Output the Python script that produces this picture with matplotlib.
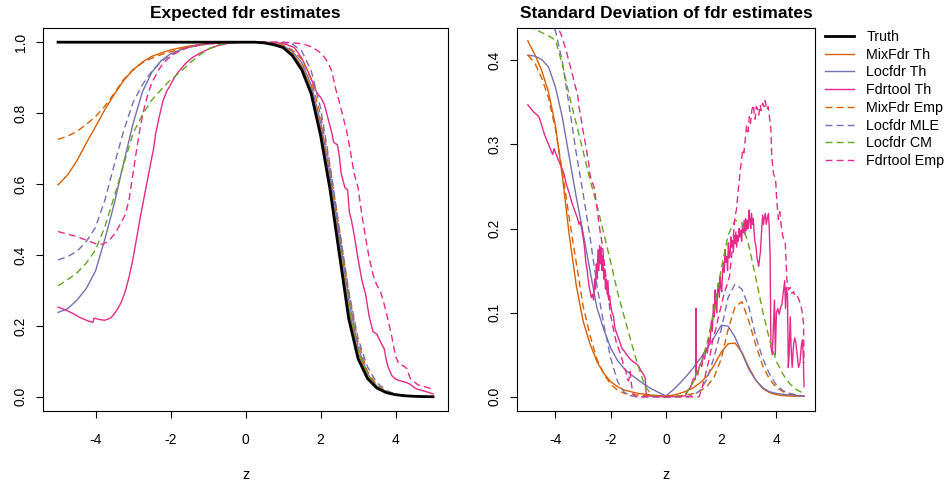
import matplotlib
matplotlib.use('Agg')
import matplotlib.pyplot as plt

plt.rcParams['font.family'] = ['Liberation Sans', 'DejaVu Sans']
plt.rcParams['axes.unicode_minus'] = False

# common z grid for the smooth curves
z_grid = [-5, -4.75, -4.5, -4.25, -4, -3.75, -3.5, -3.25, -3, -2.75,
          -2.5, -2.25, -2, -1.75, -1.5, -1.25, -1, -0.75, -0.5, -0.25,
          0, 0.25, 0.5, 0.75, 1, 1.25, 1.5, 1.75, 2, 2.25,
          2.5, 2.75, 3, 3.25, 3.5, 3.75, 4, 4.25, 4.5, 4.75, 5]

# ---- expected fdr estimates (left panel) ----
truth_mean = [1, 1, 1, 1, 1, 1, 1, 1, 1, 1, 1, 1, 1, 1, 1, 1, 1, 1, 1, 1, 1,
              1.0, 0.998, 0.993, 0.985, 0.962, 0.922, 0.855, 0.738, 0.587, 0.404,
              0.222, 0.108, 0.052, 0.025, 0.012, 0.006, 0.003, 0.0015, 0.0007, 0.0003]
mixfdr_th_mean = [0.598, 0.625, 0.665, 0.715, 0.762, 0.81, 0.853, 0.892, 0.922, 0.944,
                  0.96, 0.97, 0.978, 0.984, 0.989, 0.993, 0.996, 0.998, 0.999, 1.0, 1.0,
                  1.0, 0.999, 0.996, 0.988, 0.968, 0.932, 0.868, 0.758, 0.61, 0.43,
                  0.25, 0.125, 0.058, 0.027, 0.013, 0.006, 0.003, 0.0015, 0.0007, 0.0003]
locfdr_th_mean = [0.238, 0.248, 0.272, 0.305, 0.355, 0.445, 0.545, 0.66, 0.77, 0.86,
                  0.915, 0.948, 0.967, 0.978, 0.986, 0.991, 0.995, 0.997, 0.999, 1.0, 1.0,
                  1.0, 0.999, 0.997, 0.99, 0.974, 0.942, 0.88, 0.775, 0.63, 0.455,
                  0.275, 0.14, 0.065, 0.03, 0.014, 0.007, 0.003, 0.0015, 0.0007, 0.0003]
mixfdr_emp_mean = [0.726, 0.735, 0.748, 0.768, 0.79, 0.82, 0.856, 0.895, 0.922, 0.942,
                   0.955, 0.965, 0.973, 0.98, 0.986, 0.991, 0.995, 0.997, 0.999, 1.0, 1.0,
                   1.0, 0.999, 0.998, 0.992, 0.978, 0.952, 0.895, 0.795, 0.65, 0.475,
                   0.295, 0.155, 0.072, 0.033, 0.015, 0.007, 0.003, 0.0015, 0.0007, 0.0003]
locfdr_mle_mean = [0.386, 0.395, 0.41, 0.437, 0.478, 0.555, 0.655, 0.75, 0.83, 0.88,
                   0.918, 0.945, 0.964, 0.977, 0.986, 0.992, 0.996, 0.998, 0.999, 1.0, 1.0,
                   1.0, 1.0, 1.0, 0.999, 0.995, 0.975, 0.92, 0.815, 0.655, 0.475,
                   0.3, 0.165, 0.085, 0.04, 0.018, 0.008, 0.004, 0.002, 0.001, 0.0005]
locfdr_cm_mean = [0.313, 0.33, 0.349, 0.377, 0.414, 0.48, 0.565, 0.655, 0.743, 0.795,
                  0.837, 0.866, 0.894, 0.915, 0.94, 0.962, 0.98, 0.992, 0.997, 0.999, 1.0,
                  1.0, 0.999, 0.995, 0.986, 0.965, 0.926, 0.86, 0.745, 0.6, 0.425,
                  0.25, 0.128, 0.062, 0.03, 0.015, 0.007, 0.003, 0.0015, 0.0007, 0.0003]

fdrtool_th_mean_z = [-5.0, -4.8, -4.6, -4.4, -4.2, -4.07, -4.04, -3.9, -3.75, -3.6,
                     -3.5, -3.4, -3.3, -3.2, -3.1, -3.0, -2.9, -2.8, -2.7, -2.6,
                     -2.5, -2.45, -2.4, -2.3, -2.2, -2.1, -2.0, -1.9, -1.8, -1.6,
                     -1.4, -1.2, -1.0, -0.75, -0.5, -0.25, 0.0, 0.5, 1.0, 1.3,
                     1.5, 1.7, 1.9, 2.0, 2.1, 2.2, 2.3, 2.35, 2.4, 2.45,
                     2.5, 2.55, 2.6, 2.65, 2.72, 2.77, 2.82, 2.9, 3.0, 3.1,
                     3.2, 3.3, 3.4, 3.5, 3.6, 3.7, 3.75, 3.8, 3.9, 4.0,
                     4.1, 4.2, 4.3, 4.4, 4.5, 4.6, 4.7, 4.8, 4.9, 5.0]
fdrtool_th_mean = [0.253, 0.245, 0.235, 0.223, 0.214, 0.21, 0.222, 0.218, 0.216, 0.222,
                   0.234, 0.25, 0.27, 0.3, 0.34, 0.39, 0.45, 0.51, 0.565, 0.62,
                   0.675, 0.70, 0.74, 0.79, 0.835, 0.862, 0.88, 0.9, 0.915, 0.94,
                   0.958, 0.97, 0.98, 0.99, 0.996, 0.999, 1.0, 1.0, 0.997, 0.985,
                   0.955, 0.91, 0.858, 0.845, 0.825, 0.785, 0.745, 0.718, 0.714, 0.711,
                   0.68, 0.63, 0.61, 0.59, 0.584, 0.52, 0.5, 0.455, 0.39, 0.33,
                   0.29, 0.225, 0.184, 0.177, 0.155, 0.135, 0.105, 0.085, 0.06, 0.05,
                   0.046, 0.043, 0.04, 0.035, 0.026, 0.021, 0.018, 0.015, 0.012, 0.008]

fdrtool_emp_mean_z = [-5.0, -4.5, -4.2, -4.0, -3.8, -3.65, -3.5, -3.35, -3.2, -3.1,
                      -3.0, -2.9, -2.8, -2.7, -2.6, -2.5, -2.4, -2.3, -2.2, -2.0,
                      -1.75, -1.5, -1.0, -0.5, 0.0, 0.5, 1.0, 1.4, 1.6, 1.8,
                      2.0, 2.1, 2.2, 2.3, 2.4, 2.5, 2.6, 2.7, 2.8, 2.9,
                      3.0, 3.1, 3.2, 3.3, 3.4, 3.5, 3.6, 3.7, 3.8, 3.9,
                      4.0, 4.1, 4.2, 4.3, 4.4, 4.5, 4.6, 4.7, 4.8, 4.9,
                      5.0]
fdrtool_emp_mean = [0.466, 0.452, 0.44, 0.432, 0.43, 0.44, 0.458, 0.485, 0.515, 0.56,
                    0.63, 0.7, 0.765, 0.815, 0.855, 0.885, 0.905, 0.925, 0.94, 0.96,
                    0.976, 0.987, 0.996, 0.999, 1.0, 1.0, 1.0, 0.997, 0.993, 0.985,
                    0.97, 0.958, 0.943, 0.918, 0.87, 0.832, 0.79, 0.748, 0.69, 0.628,
                    0.59, 0.515, 0.45, 0.39, 0.345, 0.315, 0.297, 0.26, 0.217, 0.17,
                    0.115, 0.09, 0.088, 0.08, 0.05, 0.042, 0.034, 0.03, 0.028, 0.025,
                    0.02]

# ---- standard deviation of fdr estimates (right panel) ----
mixfdr_th_sd = [0.423, 0.407, 0.388, 0.362, 0.322, 0.262, 0.192, 0.133, 0.09, 0.063,
                0.042, 0.028, 0.018, 0.012, 0.008, 0.006, 0.004, 0.003, 0.002, 0.0015, 0.001,
                0.002, 0.004, 0.007, 0.011, 0.017, 0.025, 0.038, 0.053, 0.063, 0.064,
                0.053, 0.035, 0.02, 0.01, 0.005, 0.0025, 0.0015, 0.001, 0.0007, 0.0005]
locfdr_th_sd = [0.406, 0.405, 0.401, 0.392, 0.368, 0.332, 0.285, 0.238, 0.195, 0.15,
                0.106, 0.08, 0.058, 0.043, 0.033, 0.026, 0.02, 0.014, 0.009, 0.005, 0.001,
                0.008, 0.016, 0.025, 0.035, 0.046, 0.058, 0.071, 0.085, 0.084, 0.071,
                0.052, 0.033, 0.02, 0.011, 0.006, 0.004, 0.003, 0.002, 0.0015, 0.001]
mixfdr_emp_sd = [0.406, 0.397, 0.379, 0.355, 0.318, 0.268, 0.212, 0.16, 0.108, 0.073,
                 0.045, 0.027, 0.015, 0.008, 0.004, 0.003, 0.002, 0.0015, 0.001, 0.001, 0.001,
                 0.001, 0.001, 0.002, 0.004, 0.007, 0.013, 0.024, 0.045, 0.08, 0.107,
                 0.113, 0.09, 0.062, 0.037, 0.021, 0.011, 0.006, 0.003, 0.002, 0.001]
locfdr_mle_sd = [0.5, 0.485, 0.468, 0.452, 0.435, 0.398, 0.345, 0.29, 0.242, 0.19,
                 0.133, 0.086, 0.046, 0.018, 0.005, 0.001, 0.0005, 0, 0, 0, 0,
                 0, 0, 0, 0.002, 0.008, 0.022, 0.048, 0.08, 0.118, 0.134,
                 0.128, 0.107, 0.072, 0.046, 0.027, 0.014, 0.007, 0.004, 0.002, 0.001]
locfdr_cm_sd = [0.44, 0.437, 0.433, 0.429, 0.424, 0.395, 0.358, 0.325, 0.292, 0.258,
                0.228, 0.194, 0.16, 0.124, 0.094, 0.064, 0.036, 0.012, 0.002, 0, 0,
                0, 0.001, 0.005, 0.018, 0.038, 0.065, 0.105, 0.152, 0.192, 0.21,
                0.207, 0.18, 0.142, 0.102, 0.068, 0.042, 0.026, 0.015, 0.008, 0.004]

fdrtool_th_sd_z = [-5.0, -4.9, -4.8, -4.7, -4.6, -4.5, -4.4, -4.3, -4.2, -4.1,
                   -4.05, -4.0, -3.9, -3.8, -3.7, -3.6, -3.5, -3.4, -3.3, -3.2,
                   -3.15, -3.1, -3.0, -2.95, -2.9, -2.85, -2.8, -2.75, -2.7, -2.66,
                   -2.62, -2.58, -2.55, -2.52, -2.49, -2.46, -2.43, -2.4, -2.37, -2.34,
                   -2.31, -2.28, -2.25, -2.22, -2.19, -2.16, -2.13, -2.1, -2.07, -2.04,
                   -2.0, -1.95, -1.9, -1.85, -1.8, -1.7, -1.6, -1.5, -1.4, -1.3,
                   -1.2, -1.1, -1.0, -0.9, -0.8, -0.75, -0.72, -0.6, 0.0, 0.7,
                   0.8, 0.9, 0.95, 1.0, 1.05, 1.08, 1.09, 1.1, 1.15, 1.2,
                   1.25, 1.3, 1.35, 1.4, 1.45, 1.5, 1.55, 1.6, 1.64, 1.68,
                   1.72, 1.75, 1.78, 1.81, 1.84, 1.87, 1.9, 1.93, 1.96, 1.99,
                   2.02, 2.05, 2.08, 2.11, 2.14, 2.17, 2.2, 2.23, 2.26, 2.29,
                   2.32, 2.35, 2.38, 2.41, 2.44, 2.47, 2.5, 2.53, 2.56, 2.59,
                   2.62, 2.65, 2.68, 2.71, 2.74, 2.77, 2.8, 2.83, 2.86, 2.89,
                   2.92, 2.95, 2.98, 3.01, 3.04, 3.07, 3.1, 3.13, 3.16, 3.19,
                   3.22, 3.26, 3.3, 3.33, 3.36, 3.39, 3.42, 3.45, 3.48, 3.5,
                   3.53, 3.56, 3.6, 3.63, 3.67, 3.71, 3.74, 3.77, 3.8, 3.85,
                   3.9, 3.93, 3.96, 4.0, 4.05, 4.1, 4.15, 4.2, 4.25, 4.3,
                   4.33, 4.36, 4.4, 4.43, 4.46, 4.5, 4.53, 4.57, 4.62, 4.66,
                   4.7, 4.75, 4.8, 4.85, 4.9, 4.94, 4.97, 5.0]
fdrtool_th_sd = [0.347, 0.343, 0.339, 0.336, 0.333, 0.323, 0.312, 0.304, 0.296, 0.288,
                 0.295, 0.29, 0.282, 0.274, 0.266, 0.252, 0.242, 0.23, 0.221, 0.212,
                 0.205, 0.208, 0.19, 0.178, 0.16, 0.15, 0.135, 0.126, 0.118, 0.122,
                 0.115, 0.14, 0.128, 0.158, 0.14, 0.175, 0.15, 0.18, 0.158, 0.178,
                 0.15, 0.168, 0.14, 0.152, 0.128, 0.14, 0.122, 0.138, 0.115, 0.12,
                 0.108, 0.1, 0.096, 0.082, 0.077, 0.068, 0.058, 0.054, 0.049, 0.045,
                 0.042, 0.04, 0.037, 0.031, 0.026, 0.022, 0.004, 0.001, 0.0, 0.001,
                 0.008, 0.012, 0.018, 0.022, 0.02, 0.026, 0.105, 0.03, 0.026, 0.035,
                 0.04, 0.036, 0.05, 0.045, 0.058, 0.052, 0.07, 0.064, 0.09, 0.078,
                 0.11, 0.095, 0.127, 0.108, 0.1, 0.128, 0.135, 0.118, 0.143, 0.13,
                 0.125, 0.15, 0.159, 0.148, 0.175, 0.16, 0.167, 0.15, 0.183, 0.165,
                 0.167, 0.19, 0.178, 0.186, 0.172, 0.192, 0.182, 0.196, 0.178, 0.192,
                 0.185, 0.2, 0.19, 0.198, 0.185, 0.205, 0.195, 0.21, 0.193, 0.212,
                 0.198, 0.21, 0.2, 0.222, 0.21, 0.2, 0.218, 0.205, 0.212, 0.196,
                 0.185, 0.179, 0.165, 0.16, 0.155, 0.165, 0.172, 0.19, 0.205, 0.216,
                 0.205, 0.213, 0.218, 0.205, 0.212, 0.218, 0.2, 0.17, 0.06, 0.05,
                 0.09, 0.115, 0.05, 0.1, 0.105, 0.098, 0.106, 0.11, 0.125, 0.138,
                 0.105, 0.13, 0.12, 0.035, 0.05, 0.095, 0.06, 0.035, 0.062, 0.07,
                 0.065, 0.05, 0.035, 0.04, 0.06, 0.068, 0.05, 0.012]

fdrtool_emp_sd_z = [-5.0, -4.5, -4.0, -3.9, -3.8, -3.7, -3.6, -3.5, -3.4, -3.3,
                    -3.2, -3.15, -3.1, -3.0, -2.9, -2.8, -2.75, -2.7, -2.6, -2.5,
                    -2.4, -2.3, -2.2, -2.1, -2.0, -1.9, -1.8, -1.7, -1.6, -1.5,
                    -1.45, -1.4, -1.35, -1.3, -1.25, -1.2, -1.1, 1.2, 1.3, 1.4,
                    1.5, 1.6, 1.7, 1.8, 1.9, 2.0, 2.1, 2.2, 2.3, 2.4,
                    2.5, 2.55, 2.62, 2.68, 2.73, 2.78, 2.82, 2.86, 2.92, 2.97,
                    3.02, 3.06, 3.11, 3.17, 3.2, 3.23, 3.27, 3.31, 3.36, 3.41,
                    3.45, 3.5, 3.55, 3.59, 3.65, 3.7, 3.74, 3.8, 3.83, 3.89,
                    3.97, 4.01, 4.07, 4.12, 4.16, 4.23, 4.32, 4.38, 4.44, 4.5,
                    4.56, 4.62, 4.68, 4.74, 4.8, 4.86, 4.92, 4.98, 5.0]
fdrtool_emp_sd = [0.53, 0.5, 0.45, 0.438, 0.431, 0.421, 0.41, 0.397, 0.385, 0.371,
                  0.36, 0.345, 0.336, 0.316, 0.298, 0.278, 0.264, 0.258, 0.249, 0.225,
                  0.2, 0.18, 0.15, 0.122, 0.097, 0.08, 0.065, 0.056, 0.046, 0.034,
                  0.03, 0.021, 0.019, 0.03, 0.015, 0.005, 0.0, 0.0, 0.01, 0.022,
                  0.036, 0.05, 0.068, 0.08, 0.095, 0.108, 0.122, 0.132, 0.143, 0.175,
                  0.215, 0.222, 0.246, 0.266, 0.28, 0.294, 0.29, 0.302, 0.322, 0.315,
                  0.333, 0.325, 0.341, 0.347, 0.335, 0.33, 0.345, 0.343, 0.335, 0.347,
                  0.34, 0.349, 0.345, 0.352, 0.341, 0.345, 0.335, 0.318, 0.286, 0.266,
                  0.258, 0.234, 0.211, 0.22, 0.207, 0.191, 0.183, 0.139, 0.127, 0.13,
                  0.123, 0.125, 0.119, 0.12, 0.117, 0.111, 0.103, 0.088, 0.04]

orange = '#D95F02'
purple = '#7570B3'
pink = '#E7298A'
green = '#66A61E'
dash = (0, (5, 3))

fig = plt.figure(figsize=(9.5, 4.87), dpi=100)
ax1 = fig.add_axes([0.0453, 0.156, 0.4263, 0.7865])
ax2 = fig.add_axes([0.544, 0.156, 0.314, 0.7865])

# left panel
ax1.plot(z_grid, mixfdr_th_mean, color=orange, lw=1, label='MixFdr Th')
ax1.plot(z_grid, locfdr_th_mean, color=purple, lw=1, label='Locfdr Th')
ax1.plot(fdrtool_th_mean_z, fdrtool_th_mean, color=pink, lw=1, label='Fdrtool Th')
ax1.plot(z_grid, mixfdr_emp_mean, color=orange, lw=1, ls=dash, label='MixFdr Emp')
ax1.plot(z_grid, locfdr_mle_mean, color=purple, lw=1, ls=dash, label='Locfdr MLE')
ax1.plot(z_grid, locfdr_cm_mean, color=green, lw=1, ls=dash, label='Locfdr CM')
ax1.plot(fdrtool_emp_mean_z, fdrtool_emp_mean, color=pink, lw=1, ls=dash, label='Fdrtool Emp')
ax1.plot(z_grid, truth_mean, color='black', lw=2, label='Truth', zorder=5)

# right panel
ax2.plot(z_grid, mixfdr_th_sd, color=orange, lw=1)
ax2.plot(z_grid, locfdr_th_sd, color=purple, lw=1)
ax2.plot(fdrtool_th_sd_z, fdrtool_th_sd, color=pink, lw=1)
ax2.plot(z_grid, mixfdr_emp_sd, color=orange, lw=1, ls=dash)
ax2.plot(z_grid, locfdr_mle_sd, color=purple, lw=1, ls=dash)
ax2.plot(z_grid, locfdr_cm_sd, color=green, lw=1, ls=dash)
ax2.plot(fdrtool_emp_sd_z, fdrtool_emp_sd, color=pink, lw=1, ls=dash)

ax1.set_xlim(-5.4, 5.4)
ax1.set_ylim(-0.04, 1.04)
ax1.set_yticks([0, 0.2, 0.4, 0.6, 0.8, 1.0])
ax1.set_yticklabels(['0.0', '0.2', '0.4', '0.6', '0.8', '1.0'])
ax1.set_title('Expected fdr estimates', fontsize=12.5, fontweight='bold', pad=7)

ax2.set_xlim(-5.4, 5.4)
ax2.set_ylim(-0.01686, 0.43836)
ax2.set_yticks([0, 0.1, 0.2, 0.3, 0.4])
ax2.set_yticklabels(['0.0', '0.1', '0.2', '0.3', '0.4'])
ax2.set_title('Standard Deviation of fdr estimates', fontsize=12.5, fontweight='bold', pad=7)

for ax in (ax1, ax2):
    ax.set_xticks([-4, -2, 0, 2, 4])
    ax.set_xlabel('z', fontsize=10.3, labelpad=15.5)
    ax.tick_params(direction='out', length=5, width=0.8, labelsize=10)
    ax.tick_params(axis='x', pad=10.5)
    ax.tick_params(axis='y', pad=6, labelrotation=90)
    for s in ax.spines.values():
        s.set_linewidth(0.8)
    for lab in ax.get_yticklabels():
        lab.set_va('center')

# legend outside on the right, same order as the original
handles, labels = ax1.get_legend_handles_labels()
order = [7, 0, 1, 2, 3, 4, 5, 6]
fig.legend([handles[i] for i in order], [labels[i] for i in order],
           loc='upper left', bbox_to_anchor=(0.8684, 0.9385), frameon=False,
           fontsize=10.3, handlelength=2.0, handletextpad=0.9,
           labelspacing=0.26, borderpad=0, borderaxespad=0)

fig.savefig('out.png', dpi=100)
